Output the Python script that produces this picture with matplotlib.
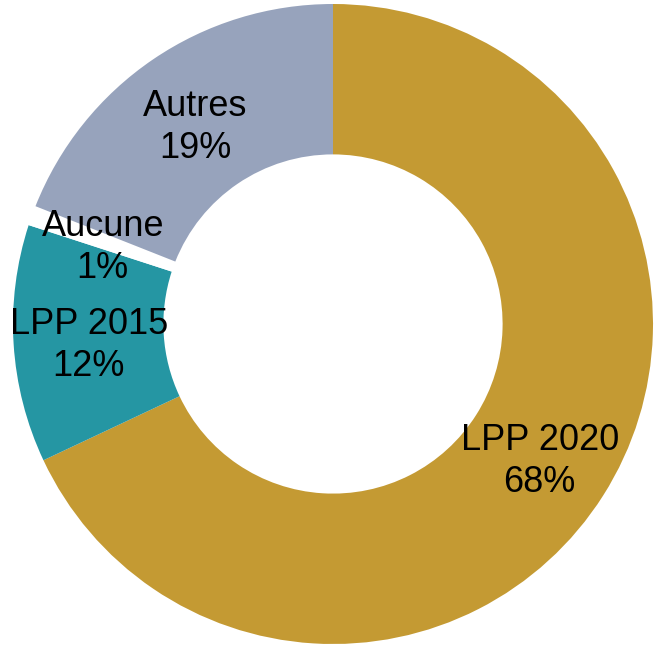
import numpy as np
import matplotlib.pyplot as plt

plt.rcParams['font.family'] = ['Liberation Sans', 'DejaVu Sans']

# Data (clockwise from 12 o'clock)
labels = ['LPP 2020', 'LPP 2015', 'Aucune', 'Autres']
shares = [68, 12, 1, 19]
colors = ['#C49A33', '#2596A3', '#FFFFFF', '#97A3BC']

fig = plt.figure(figsize=(6.58, 6.48), dpi=100)
# place axes so the donut centre sits at (333, 324) px with radius ~320 px
r_px = 320
cx, cy = 333, 648 - 324
ax = fig.add_axes([(cx - r_px) / 658, (cy - r_px) / 648, 2 * r_px / 658, 2 * r_px / 648])

wedges, _ = ax.pie(shares, colors=colors, startangle=90, counterclock=False,
                   radius=1.0, wedgeprops=dict(width=0.47, linewidth=0))

# labels in the middle of the ring
for w, lab, val in zip(wedges, labels, shares):
    ang = np.deg2rad((w.theta1 + w.theta2) / 2)
    r = 0.765
    ax.annotate(f'{lab}\n{val}%', (r * np.cos(ang), r * np.sin(ang)),
                xytext=(0, -4.5), textcoords='offset points',
                ha='center', va='center', fontsize=26, linespacing=1.25, color='black')

ax.set_xlim(-1, 1)
ax.set_ylim(-1, 1)
ax.set_aspect('equal')
ax.axis('off')

fig.savefig('out.png', dpi=100)
